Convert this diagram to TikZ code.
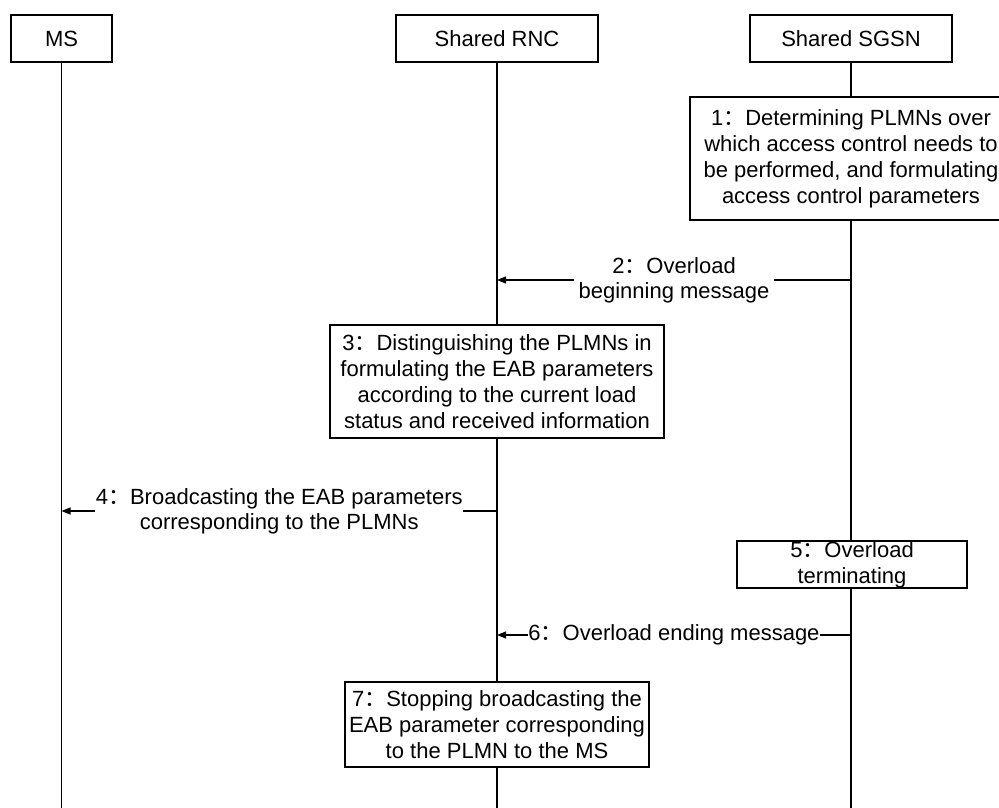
\documentclass[tikz,border=0pt]{standalone}
\usepackage{fontspec}
\setmainfont{Liberation Sans}
\newfontfamily\cjk{Noto Sans CJK SC}
\usetikzlibrary{arrows.meta}
\newcommand{\fwc}{{\cjk ：}}
\begin{document}
\begin{tikzpicture}[x=1pt,y=-1pt,
  box/.style={draw, line width=1.2pt, fill=white, align=center, inner sep=0pt, font=\fontsize{22}{26}\selectfont},
  life/.style={line width=1.3pt},
  msg/.style={line width=1.2pt, -{Triangle[length=9pt,width=7pt]}},
  lbl/.style={fill=white, inner sep=1.5pt, align=center, font=\fontsize{22}{25}\selectfont}]
\useasboundingbox (0,0) rectangle (999,808);
\clip (0,0) rectangle (999,808);
% headers
\node[box, minimum width=101pt, minimum height=47pt] (ms) at (61.5,38.5) {MS};
\node[box, minimum width=202pt, minimum height=47pt] (rnc) at (497,38.5) {Shared RNC};
\node[box, minimum width=202pt, minimum height=47pt] (sgsn) at (851,38.5) {Shared SGSN};
% process boxes
\node[box, minimum width=322pt, minimum height=123pt] (b1) at (851,158.5)
  {1\fwc Determining PLMNs over\\which access control needs to\\be performed, and formulating\\access control parameters};
\node[box, minimum width=334pt, minimum height=113pt] (b3) at (497,381.5)
  {3\fwc Distinguishing the PLMNs in\\formulating the EAB parameters\\according to the current load\\status and received information};
\node[box, minimum width=230pt, minimum height=47pt] (b5) at (852,564.5)
  {5\fwc Overload\\terminating};
\node[box, minimum width=304pt, minimum height=85pt] (b7) at (497,724.5)
  {7\fwc Stopping broadcasting the\\EAB parameter corresponding\\to the PLMN to the MS};
% lifeline ends
\coordinate (msend) at (61.5,810);
\coordinate (rncend) at (497,810);
\coordinate (sgsnend) at (851,810);
\draw[life] (ms.south) -- (msend);
\draw[life] (rnc.south) -- (b3.north);
\draw[life] (b3.south) -- (b7.north);
\draw[life] (b7.south) -- (rncend);
\draw[life] (sgsn.south) -- (b1.north -| sgsn.south);
\draw[life] (b1.south -| sgsn.south) -- (b5.north -| sgsn.south);
\draw[life] (b5.south -| sgsn.south) -- (sgsnend);
% message points
\coordinate (m2s) at (851,280);
\coordinate (m2e) at (497,280);
\coordinate (m4s) at (497,511);
\coordinate (m4e) at (61.5,511);
\coordinate (m6s) at (851,635);
\coordinate (m6e) at (497,635);
\draw[msg] (m2s) -- (m2e) node[midway, lbl, inner xsep=5pt] {2\fwc Overload\\beginning message};
\draw[msg] (m4s) -- (m4e) node[midway, lbl, inner xsep=0.5pt] {4\fwc Broadcasting the EAB parameters\\corresponding to the PLMNs};
\draw[msg] (m6s) -- (m6e) node[midway, lbl, inner xsep=0.5pt] {6\fwc Overload ending message};
\end{tikzpicture}
\end{document}
